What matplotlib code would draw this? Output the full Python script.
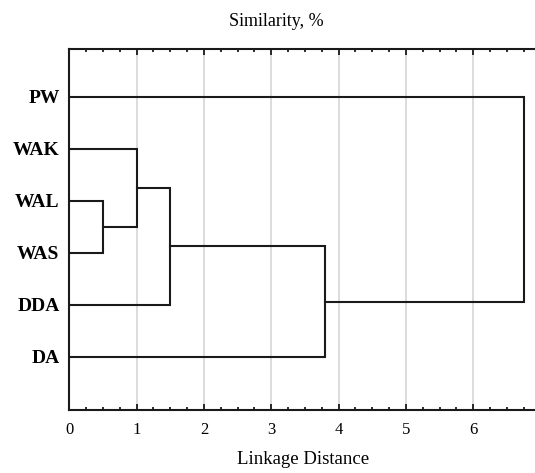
import numpy as np
import matplotlib
matplotlib.use("Agg")
import matplotlib.pyplot as plt
from matplotlib.ticker import MultipleLocator

# leaves, top to bottom, and their y slots
leaves = ["PW", "WAK", "WAL", "WAS", "DDA", "DA"]
leaf_y = [6, 5, 4, 3, 2, 1]

# merges: (left node, right node, linkage distance) -> new node name
merges = [
    ("WAL", "WAS", 0.50, "c1"),
    ("WAK", "c1", 1.00, "c2"),
    ("c2", "DDA", 1.50, "c3"),
    ("c3", "DA", 3.80, "c4"),
    ("PW", "c4", 6.75, "c5"),
]

plt.rcParams["font.family"] = ["Liberation Serif", "DejaVu Serif"]

fig = plt.figure(figsize=(5.35, 4.73), dpi=100)
ax = fig.add_axes([0.1295, 0.1332, 0.881, 0.7632])

pos = {name: (0.0, y) for name, y in zip(leaves, leaf_y)}
for a, b, h, new in merges:
    xa, ya = pos[a]
    xb, yb = pos[b]
    ax.plot([xa, h, h, xb], [ya, ya, yb, yb], color="#1a1a1a", lw=1.5,
            solid_joinstyle="miter", zorder=3)
    pos[new] = (h, (ya + yb) / 2)

ax.set_xlim(0, 7)
ax.set_ylim(-0.02, 6.92)
ax.xaxis.set_major_locator(MultipleLocator(1))
ax.xaxis.set_minor_locator(MultipleLocator(0.25))
ax.set_yticks(leaf_y)
ax.set_yticklabels(leaves)
ax.tick_params(axis="x", which="both", direction="in", top=True, bottom=True,
               labelsize=12, pad=9, color="#1a1a1a")
ax.tick_params(axis="x", which="major", length=4, width=1.3)
ax.tick_params(axis="x", which="minor", length=2.5, width=1.3)
ax.tick_params(axis="y", length=0, labelsize=14, pad=7)
for lab in ax.get_yticklabels():
    lab.set_fontweight("semibold")
ax.grid(axis="x", which="major", color="#d9d9d9", lw=1.3, zorder=0)
for s in ax.spines.values():
    s.set_linewidth(1.5)
    s.set_color("#1a1a1a")

fig.text(276 / 535, 1 - 26 / 473, "Similarity, %", ha="center", va="baseline",
         fontsize=13)
fig.text(303 / 535, 1 - 464 / 473, "Linkage Distance", ha="center",
         va="baseline", fontsize=13.5)

fig.savefig("out.png", dpi=100)
